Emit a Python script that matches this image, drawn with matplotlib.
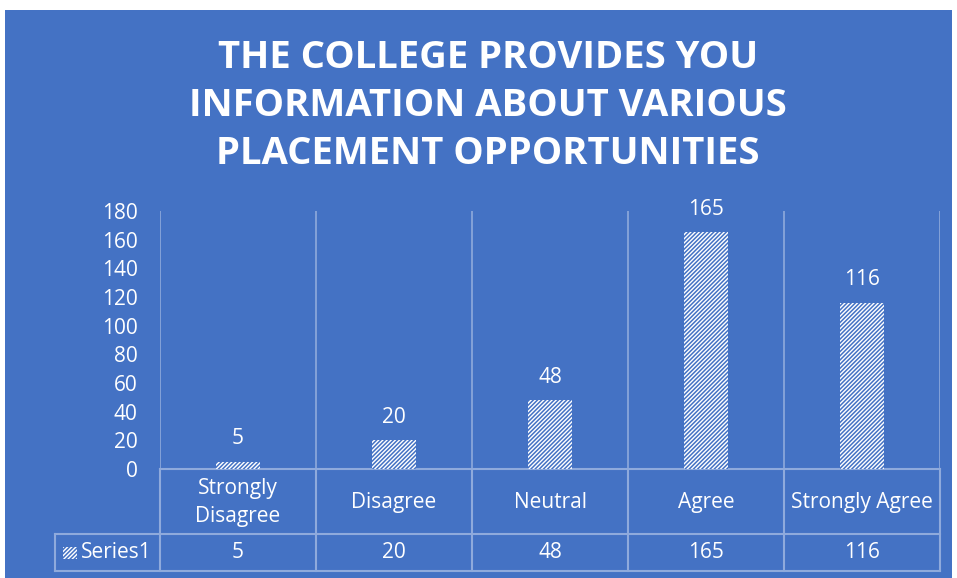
import numpy as np
import matplotlib.pyplot as plt
from matplotlib.patches import Rectangle

categories = ['Strongly\nDisagree', 'Disagree', 'Neutral', 'Agree', 'Strongly Agree']
values = [5, 20, 48, 165, 116]
series_name = 'Series1'
title = 'THE COLLEGE PROVIDES YOU\nINFORMATION ABOUT VARIOUS\nPLACEMENT OPPORTUNITIES'

BLUE = '#4472C4'
LINE = '#8FAADC'
W, H = 957, 578
FS = 15

plt.rcParams['font.family'] = ['Open Sans', 'DejaVu Sans']
plt.rcParams['hatch.linewidth'] = 1.1

fig = plt.figure(figsize=(W / 100, H / 100), dpi=100, facecolor='white')
fig.patches.append(Rectangle((5 / W, 0), 947 / W, 568 / H, transform=fig.transFigure,
                             facecolor=BLUE, edgecolor='none', zorder=-10))

# plot area in pixels
x0, x1, ytop, ybot = 160, 940, 211, 469
ax = fig.add_axes([x0 / W, (H - ybot) / H, (x1 - x0) / W, (ybot - ytop) / H])
ax.set_facecolor('none')
for s in ax.spines.values():
    s.set_visible(False)

x = np.arange(len(values))
ax.bar(x, values, width=0.28, facecolor='white', edgecolor=BLUE, hatch='////////',
       linewidth=0, zorder=3)
for xi, v in zip(x, values):
    ax.annotate(str(v), (xi, v), xytext=(0, 9), textcoords='offset points',
                ha='center', va='bottom', color='white', fontsize=FS)

ax.set_xlim(-0.5, len(values) - 0.5)
ax.set_ylim(0, 180)
ax.set_yticks(np.arange(0, 181, 20))
ax.tick_params(axis='y', length=0, colors='white', labelsize=FS, pad=16)
ax.set_xticks([])
for b in np.arange(-0.5, len(values), 1):
    ax.axvline(b, color=LINE, lw=1.2, zorder=1)

# data table below the axes
ph = ybot - ytop
pw = x1 - x0
def fy(py):
    return (ybot - py) / ph
def fx(px):
    return (px - x0) / pw

r1, r2 = 534, 571
lx = 55
kw = dict(transform=ax.transAxes, clip_on=False, color=LINE, lw=1.5)
ax.plot([0, 1], [0, 0], **kw)
ax.plot([fx(lx), 1], [fy(r1), fy(r1)], **kw)
ax.plot([fx(lx), 1], [fy(r2), fy(r2)], **kw)
ax.plot([fx(lx), fx(lx)], [fy(r1), fy(r2)], **kw)
for b in np.linspace(0, 1, len(values) + 1):
    ax.plot([b, b], [0, fy(r2)], **kw)

tr = ax.get_xaxis_transform()
for xi, c, v in zip(x, categories, values):
    ax.text(xi, fy((ybot + r1) / 2 + 1), c, transform=tr, ha='center', va='center',
            color='white', fontsize=FS, linespacing=1.4, clip_on=False)
    ax.text(xi, fy((r1 + r2) / 2), str(v), transform=tr, ha='center', va='center',
            color='white', fontsize=FS, clip_on=False)

ax.add_patch(Rectangle((fx(63), fy(559)), fx(77) - fx(63), fy(547) - fy(559),
                       transform=ax.transAxes, clip_on=False, facecolor='white',
                       edgecolor=BLUE, hatch='////////', linewidth=0))
ax.text(fx(81), fy((r1 + r2) / 2), series_name, transform=ax.transAxes, ha='left',
        va='center', color='white', fontsize=FS, clip_on=False)

fig.text(488 / W, 1 - 106 / H, title, ha='center', va='center', color='white',
         fontsize=27.5, fontweight='bold', linespacing=1.36)

fig.savefig('out.png', dpi=100, facecolor='white')
